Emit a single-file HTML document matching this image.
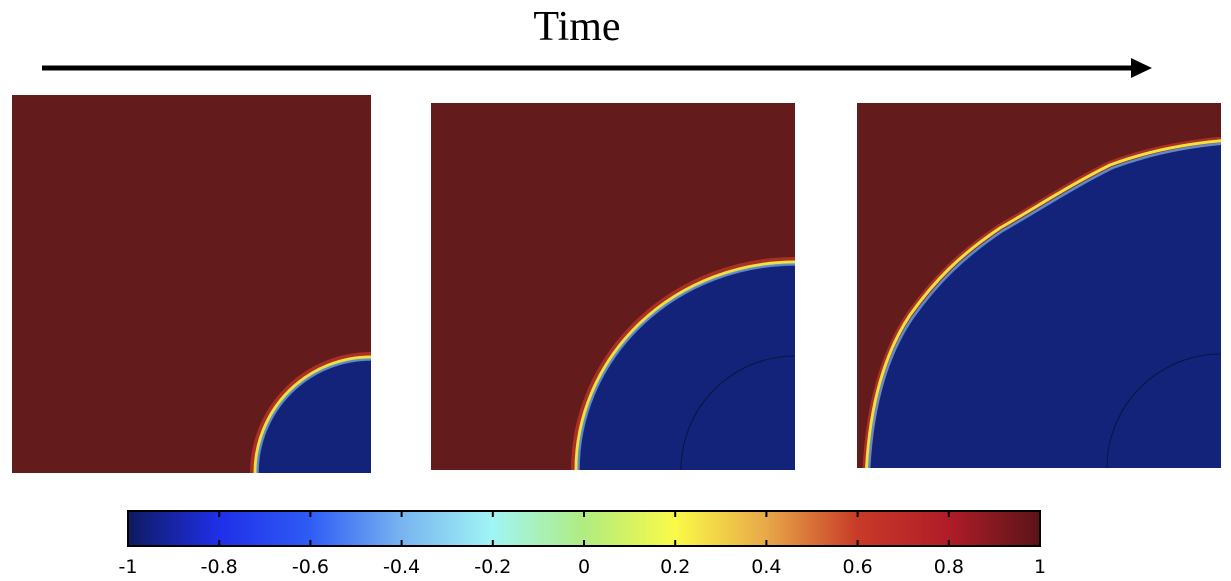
<!DOCTYPE html>
<html><head><style>
html,body{margin:0;padding:0;background:#fff;overflow:hidden;width:1231px;height:581px;}
svg{display:block;}
</style></head><body>
<svg width="1231" height="581" viewBox="0 0 1231 581" xmlns="http://www.w3.org/2000/svg">
<defs>
<linearGradient id="cb" x1="0" x2="1" y1="0" y2="0">
<stop offset="0" stop-color="#0f1a62"/>
<stop offset="0.1" stop-color="#1f2fe8"/>
<stop offset="0.2" stop-color="#2f5cf5"/>
<stop offset="0.3" stop-color="#78b4f0"/>
<stop offset="0.4" stop-color="#a0f5f5"/>
<stop offset="0.5" stop-color="#b0ec80"/>
<stop offset="0.6" stop-color="#fafa48"/>
<stop offset="0.7" stop-color="#e8a848"/>
<stop offset="0.8" stop-color="#c83a28"/>
<stop offset="0.9" stop-color="#b01c28"/>
<stop offset="1" stop-color="#5a1418"/>
</linearGradient>
<clipPath id="c1"><rect x="12" y="95" width="359" height="378"/></clipPath>
<clipPath id="c2"><rect x="431" y="103" width="364" height="367"/></clipPath>
<clipPath id="c3"><rect x="857" y="103" width="364" height="365"/></clipPath>
</defs>
<text x="577" y="40" font-family="Liberation Serif, serif" font-size="42" text-anchor="middle">Time</text>
<line x1="42" y1="68" x2="1135" y2="68" stroke="#000" stroke-width="5"/>
<polygon points="1131,58 1152,68 1131,78" fill="#000"/>

<g clip-path="url(#c1)">
<rect x="12" y="95" width="359" height="378" fill="#631b1b"/>
<ellipse cx="371" cy="473" rx="117" ry="117" fill="#13237a" stroke="#d84028" stroke-width="8" stroke-opacity="0.6"/>
<ellipse cx="371" cy="473" rx="116" ry="116" fill="none" stroke="#f0e040" stroke-width="3"/>
<ellipse cx="371" cy="473" rx="113.5" ry="113.5" fill="none" stroke="#60b0f0" stroke-width="2.5" stroke-opacity="0.7"/>
</g>
<g clip-path="url(#c2)">
<rect x="431" y="103" width="364" height="367" fill="#631b1b"/>
<ellipse cx="795" cy="470" rx="220" ry="209" fill="#13237a" stroke="#d84028" stroke-width="8" stroke-opacity="0.6"/>
<ellipse cx="795" cy="470" rx="219" ry="208" fill="none" stroke="#f0e040" stroke-width="3"/>
<ellipse cx="795" cy="470" rx="216.5" ry="205.5" fill="none" stroke="#60b0f0" stroke-width="2.5" stroke-opacity="0.7"/>
<circle cx="795" cy="470" r="114" fill="none" stroke="#0a1440" stroke-width="1"/>
</g>
<g clip-path="url(#c3)">
<rect x="857" y="103" width="364" height="365" fill="#631b1b"/>
<path d="M866,480 C868,420 880,360 910,315 C935,280 960,255 1000,228 C1040,205 1070,185 1110,165 C1150,150 1190,143 1230,140 L1230,480 Z" fill="#13237a" stroke="#d84028" stroke-width="8" stroke-opacity="0.6"/>
<path d="M866,480 C868,420 880,360 910,315 C935,280 960,255 1000,228 C1040,205 1070,185 1110,165 C1150,150 1190,143 1230,140" fill="none" stroke="#f0e040" stroke-width="3"/>
<path d="M868.5,480 C870.5,421 882.5,362 912.5,318 C937.5,283 962.5,258 1002.5,231 C1042.5,208 1072.5,188 1112.5,168 C1152.5,153 1192.5,146 1230,143" fill="none" stroke="#60b0f0" stroke-width="2.5" stroke-opacity="0.7"/>
<circle cx="1221" cy="468" r="114" fill="none" stroke="#0a1440" stroke-width="1"/>
</g>

<rect x="128" y="511" width="912" height="35" fill="url(#cb)" stroke="#000" stroke-width="2"/>
<g stroke="#000" stroke-width="2">
<line x1="219.2" y1="511" x2="219.2" y2="517"/><line x1="219.2" y1="540" x2="219.2" y2="546"/>
<line x1="310.4" y1="511" x2="310.4" y2="517"/><line x1="310.4" y1="540" x2="310.4" y2="546"/>
<line x1="401.6" y1="511" x2="401.6" y2="517"/><line x1="401.6" y1="540" x2="401.6" y2="546"/>
<line x1="492.8" y1="511" x2="492.8" y2="517"/><line x1="492.8" y1="540" x2="492.8" y2="546"/>
<line x1="584" y1="511" x2="584" y2="517"/><line x1="584" y1="540" x2="584" y2="546"/>
<line x1="675.2" y1="511" x2="675.2" y2="517"/><line x1="675.2" y1="540" x2="675.2" y2="546"/>
<line x1="766.4" y1="511" x2="766.4" y2="517"/><line x1="766.4" y1="540" x2="766.4" y2="546"/>
<line x1="857.6" y1="511" x2="857.6" y2="517"/><line x1="857.6" y1="540" x2="857.6" y2="546"/>
<line x1="948.8" y1="511" x2="948.8" y2="517"/><line x1="948.8" y1="540" x2="948.8" y2="546"/>
</g>
<g font-family="DejaVu Sans, sans-serif" font-size="19" text-anchor="middle" fill="#000">
<text x="128" y="573">-1</text>
<text x="219.2" y="573">-0.8</text>
<text x="310.4" y="573">-0.6</text>
<text x="401.6" y="573">-0.4</text>
<text x="492.8" y="573">-0.2</text>
<text x="584" y="573">0</text>
<text x="675.2" y="573">0.2</text>
<text x="766.4" y="573">0.4</text>
<text x="857.6" y="573">0.6</text>
<text x="948.8" y="573">0.8</text>
<text x="1040" y="573">1</text>
</g>
</svg>
</body></html>
